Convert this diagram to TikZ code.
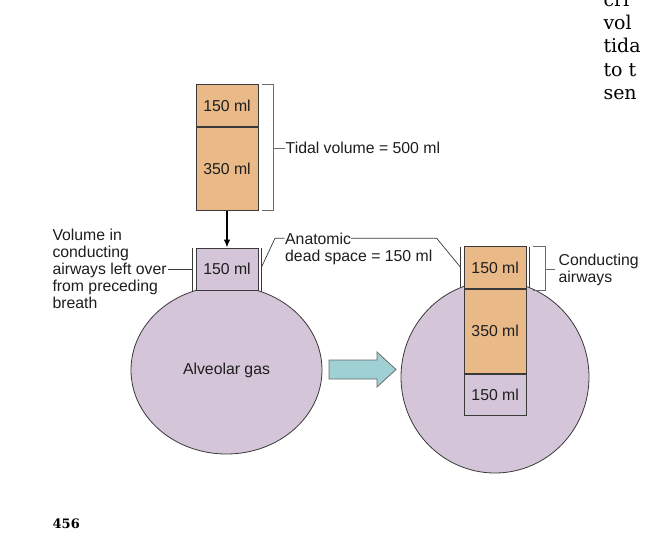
\documentclass[tikz,border=0pt]{standalone}
\usepackage{fontspec}
\setmainfont{Liberation Sans}
\newfontfamily\bookserif{DejaVu Serif}
\usetikzlibrary{shapes.geometric,arrows.meta}
\definecolor{orangefill}{HTML}{E9BA88}
\definecolor{purplefill}{HTML}{D4C5D8}
\definecolor{tealfill}{HTML}{9ED0D4}
\definecolor{edgegray}{HTML}{3A3A3A}
\definecolor{brgray}{HTML}{6A6A6A}
\definecolor{textdark}{HTML}{1E1E1E}
\begin{document}
\begin{tikzpicture}[x=1pt,y=-1pt,
  font=\fontsize{15.8}{17}\selectfont, text=textdark,
  volbox/.style={draw=edgegray, line width=0.9pt, inner sep=0pt, minimum width=62pt},
  lung/.style={ellipse, draw=edgegray, line width=0.8pt, fill=purplefill, inner sep=0pt},
  wall/.style={draw=edgegray, line width=0.7pt},
  bracketline/.style={draw=brgray, line width=0.9pt},
  leader/.style={draw=edgegray, line width=0.7pt},
  lbl/.style={inner sep=1pt, align=left},
  booktext/.style={font=\bookserif\fontsize{19}{23}\selectfont, text=black, inner sep=0pt},
  flowarrow/.style={draw=brgray, line width=0.8pt, fill=tealfill}]
\useasboundingbox (0,0) rectangle (654,536);
\fill[white] (0,0) rectangle (654,536);

% ---------- top stack (tidal volume) ----------
\node[volbox, fill=orangefill, minimum height=42.5pt] (t150) at (227,105.5) {150 ml};
\node[volbox, fill=orangefill, minimum height=83.2pt, anchor=north] (t350) at (t150.south) {350 ml};

% tidal bracket
\coordinate (tb1) at (262,84.3);
\coordinate (tb2) at (273.3,84.3);
\coordinate (tb3) at (273.3,210);
\coordinate (tb4) at (262,210);
\coordinate (tbm) at (273.3,148);
\draw[bracketline] (tb1) -- (tb2) -- (tb3) -- (tb4);
\node[lbl, anchor=west] (tidal) at (284.5,148) {Tidal volume = 500 ml};
\draw[bracketline] (tbm) -- (tidal.west);

% ---------- left lung ----------
\node[lung, minimum width=191pt, minimum height=168pt] (alv1) at (226.5,370) {Alveolar gas};
\coordinate (lw1t) at (192.3,248);
\coordinate (lw1b) at (192.3,291.6);
\coordinate (lw2t) at (261.2,248);
\coordinate (lw2b) at (261.2,291.6);
\draw[wall] (lw1t) -- (lw1b);
\draw[wall] (lw2t) -- (lw2b);
\node[volbox, fill=purplefill, minimum height=42pt] (m150) at (227,269) {150 ml};

\draw[black, line width=1.2pt, -{Latex[length=8pt,width=6.5pt]}] (t350.south) -- (m150.north);

% left label (base anchor = last line's baseline)
\node[lbl, anchor=base west] (leftover) at (51.3,308.5)
  {Volume in\\conducting\\airways left over\\from preceding\\breath};
\coordinate (lo1) at (168,269.3);
\draw[leader] (lo1) -- (lw1t |- lo1);

% ---------- block arrow ----------
\coordinate (ba1) at (329,360);
\coordinate (ba2) at (377,360);
\coordinate (ba3) at (377,352);
\coordinate (ba4) at (396,369.5);
\coordinate (ba5) at (377,387);
\coordinate (ba6) at (377,379);
\coordinate (ba7) at (329,379);
\draw[flowarrow] (ba1) -- (ba2) -- (ba3) -- (ba4) -- (ba5) -- (ba6) -- (ba7) -- cycle;

% ---------- right lung ----------
\node[lung, minimum width=188pt, minimum height=192pt] (alv2) at (495,377) {};
\coordinate (rw1t) at (460,246.7);
\coordinate (rw1b) at (460,288.2);
\coordinate (rw2t) at (529.2,246.7);
\coordinate (rw2b) at (529.2,288);
\draw[wall] (rw1t) -- (rw1b);
\draw[wall] (rw2t) -- (rw2b);
\node[volbox, fill=orangefill, minimum width=61.7pt, minimum height=41.6pt] (r150) at (495.2,267.5) {150 ml};
\node[volbox, fill=orangefill, minimum width=61.7pt, minimum height=84pt, anchor=north] (r350) at (r150.south) {350 ml};
\node[volbox, fill=purplefill, minimum width=61.7pt, minimum height=41pt, anchor=north] (r150b) at (r350.south) {150 ml};

% conducting airways bracket
\coordinate (cb1) at (533,246.7);
\coordinate (cb2) at (545.3,246.7);
\coordinate (cb3) at (545.3,290.7);
\coordinate (cb4) at (533,290.7);
\coordinate (cbm) at (545.3,269.5);
\coordinate (cbe) at (555,269.5);
\draw[bracketline] (cb1) -- (cb2) -- (cb3) -- (cb4);
\draw[bracketline] (cbm) -- (cbe);
\node[lbl, anchor=base west] (conducting) at (557.5,282.5) {Conducting\\airways};

% ---------- anatomic dead space ----------
\node[lbl, anchor=base west] (anatomic) at (284,261) {Anatomic\\dead space = 150 ml};
\coordinate (ad1) at (261.7,266.7);
\coordinate (ad2) at (275,238.3);
\coordinate (ad3) at (284.5,238.3);
\coordinate (ad4) at (351,238.3);
\coordinate (ad5) at (436.7,238.3);
\coordinate (ad6) at (460,266.7);
\draw[leader] (ad1) -- (ad2) -- (ad3);
\draw[leader] (ad4) -- (ad5) -- (ad6);

% ---------- cropped page text ----------
\begin{scope}
\clip (0,0) rectangle (654,536);
\node[booktext, anchor=base west] (bk1) at (603.3,6) {cri};
\node[booktext, anchor=base west] (bk2) at (603.3,29.3) {vol};
\node[booktext, anchor=base west] (bk3) at (603.3,52.7) {tida};
\node[booktext, anchor=base west] (bk4) at (603.3,76.3) {to t};
\node[booktext, anchor=base west] (bk5) at (603.3,99.7) {sen};
\end{scope}
\node[font=\bookserif\bfseries\fontsize{13}{15}\selectfont, text=black, inner sep=0pt, anchor=base west] (pagenum) at (52.5,528) {456};
\end{tikzpicture}
\end{document}
